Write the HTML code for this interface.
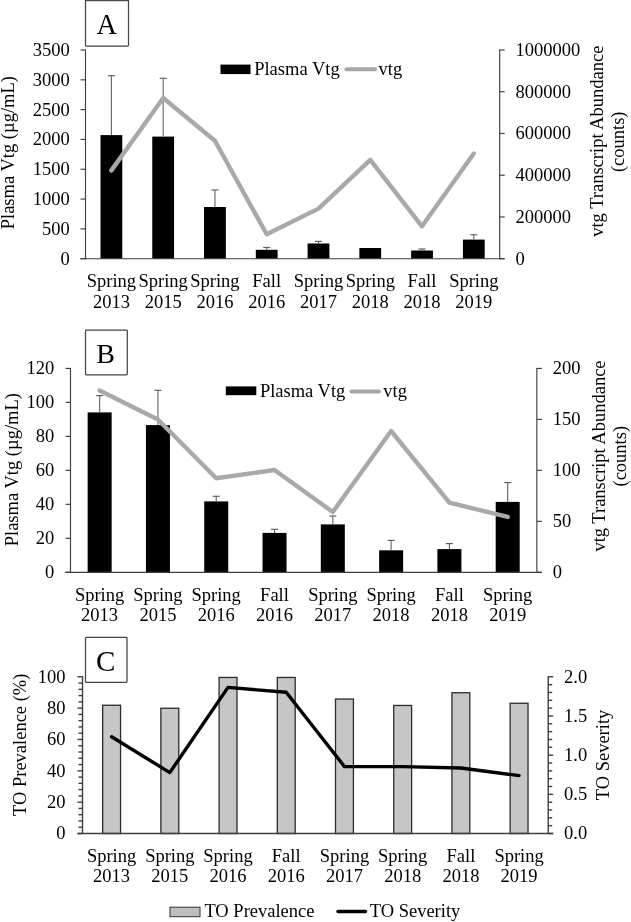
<!DOCTYPE html>
<html lang="en"><head><meta charset="utf-8"><title>Figure</title>
<style>
html,body{margin:0;padding:0;background:#fff;}
svg{display:block;will-change:transform;font-family:"Liberation Serif", serif;fill:#111;}
svg text{fill:#000;}
</style></head><body>
<svg width="631" height="922" viewBox="0 0 631 922">
<rect x="0" y="0" width="631" height="922" fill="#fff"/>
<g id="panelA">
<rect x="100.49" y="135.10" width="21.80" height="123.60" fill="#000" stroke="none" stroke-width="1"/>
<rect x="152.26" y="136.60" width="21.80" height="122.10" fill="#000" stroke="none" stroke-width="1"/>
<rect x="204.04" y="207.00" width="21.80" height="51.70" fill="#000" stroke="none" stroke-width="1"/>
<rect x="255.81" y="249.80" width="21.80" height="8.90" fill="#000" stroke="none" stroke-width="1"/>
<rect x="307.59" y="243.50" width="21.80" height="15.20" fill="#000" stroke="none" stroke-width="1"/>
<rect x="359.36" y="248.00" width="21.80" height="10.70" fill="#000" stroke="none" stroke-width="1"/>
<rect x="411.14" y="250.50" width="21.80" height="8.20" fill="#000" stroke="none" stroke-width="1"/>
<rect x="462.91" y="239.60" width="21.80" height="19.10" fill="#000" stroke="none" stroke-width="1"/>
<line x1="111.3875" y1="75.7" x2="111.3875" y2="135.1" stroke="#5c5c5c" stroke-width="1.05"/>
<line x1="107.8875" y1="75.7" x2="114.8875" y2="75.7" stroke="#5c5c5c" stroke-width="1.15"/>
<line x1="163.1625" y1="78.3" x2="163.1625" y2="136.6" stroke="#5c5c5c" stroke-width="1.05"/>
<line x1="159.6625" y1="78.3" x2="166.6625" y2="78.3" stroke="#5c5c5c" stroke-width="1.15"/>
<line x1="214.9375" y1="190" x2="214.9375" y2="207" stroke="#5c5c5c" stroke-width="1.05"/>
<line x1="211.4375" y1="190" x2="218.4375" y2="190" stroke="#5c5c5c" stroke-width="1.15"/>
<line x1="266.7125" y1="247.5" x2="266.7125" y2="249.8" stroke="#5c5c5c" stroke-width="1.05"/>
<line x1="263.2125" y1="247.5" x2="270.2125" y2="247.5" stroke="#5c5c5c" stroke-width="1.15"/>
<line x1="318.48749999999995" y1="241.4" x2="318.48749999999995" y2="243.5" stroke="#5c5c5c" stroke-width="1.05"/>
<line x1="314.98749999999995" y1="241.4" x2="321.98749999999995" y2="241.4" stroke="#5c5c5c" stroke-width="1.15"/>
<line x1="422.03749999999997" y1="249" x2="422.03749999999997" y2="250.5" stroke="#5c5c5c" stroke-width="1.05"/>
<line x1="418.53749999999997" y1="249" x2="425.53749999999997" y2="249" stroke="#5c5c5c" stroke-width="1.15"/>
<line x1="473.8125" y1="234.8" x2="473.8125" y2="239.6" stroke="#5c5c5c" stroke-width="1.05"/>
<line x1="470.3125" y1="234.8" x2="477.3125" y2="234.8" stroke="#5c5c5c" stroke-width="1.15"/>
<line x1="85.5" y1="49.5" x2="85.5" y2="259.2" stroke="#3e3e3e" stroke-width="1.15"/>
<line x1="499.7" y1="49.5" x2="499.7" y2="259.2" stroke="#3e3e3e" stroke-width="1.15"/>
<line x1="80.5" y1="258.7" x2="504.7" y2="258.7" stroke="#3e3e3e" stroke-width="1.15"/>
<line x1="80.5" y1="258.7" x2="85.5" y2="258.7" stroke="#3e3e3e" stroke-width="1.15"/>
<text x="69.8" y="264.7" font-size="18.5" text-anchor="end">0</text>
<line x1="80.5" y1="228.88571428571427" x2="85.5" y2="228.88571428571427" stroke="#3e3e3e" stroke-width="1.15"/>
<text x="69.8" y="234.88571428571427" font-size="18.5" text-anchor="end">500</text>
<line x1="80.5" y1="199.07142857142856" x2="85.5" y2="199.07142857142856" stroke="#3e3e3e" stroke-width="1.15"/>
<text x="69.8" y="205.07142857142856" font-size="18.5" text-anchor="end">1000</text>
<line x1="80.5" y1="169.25714285714287" x2="85.5" y2="169.25714285714287" stroke="#3e3e3e" stroke-width="1.15"/>
<text x="69.8" y="175.25714285714287" font-size="18.5" text-anchor="end">1500</text>
<line x1="80.5" y1="139.44285714285712" x2="85.5" y2="139.44285714285712" stroke="#3e3e3e" stroke-width="1.15"/>
<text x="69.8" y="145.44285714285712" font-size="18.5" text-anchor="end">2000</text>
<line x1="80.5" y1="109.6285714285714" x2="85.5" y2="109.6285714285714" stroke="#3e3e3e" stroke-width="1.15"/>
<text x="69.8" y="115.6285714285714" font-size="18.5" text-anchor="end">2500</text>
<line x1="80.5" y1="79.81428571428572" x2="85.5" y2="79.81428571428572" stroke="#3e3e3e" stroke-width="1.15"/>
<text x="69.8" y="85.81428571428572" font-size="18.5" text-anchor="end">3000</text>
<line x1="80.5" y1="50.0" x2="85.5" y2="50.0" stroke="#3e3e3e" stroke-width="1.15"/>
<text x="69.8" y="56.0" font-size="18.5" text-anchor="end">3500</text>
<line x1="499.7" y1="258.7" x2="504.7" y2="258.7" stroke="#3e3e3e" stroke-width="1.15"/>
<text x="515.6" y="264.7" font-size="18.5" text-anchor="start">0</text>
<line x1="499.7" y1="216.95999999999998" x2="504.7" y2="216.95999999999998" stroke="#3e3e3e" stroke-width="1.15"/>
<text x="515.6" y="222.95999999999998" font-size="18.5" text-anchor="start">200000</text>
<line x1="499.7" y1="175.22" x2="504.7" y2="175.22" stroke="#3e3e3e" stroke-width="1.15"/>
<text x="515.6" y="181.22" font-size="18.5" text-anchor="start">400000</text>
<line x1="499.7" y1="133.48000000000002" x2="504.7" y2="133.48000000000002" stroke="#3e3e3e" stroke-width="1.15"/>
<text x="515.6" y="139.48000000000002" font-size="18.5" text-anchor="start">600000</text>
<line x1="499.7" y1="91.74000000000001" x2="504.7" y2="91.74000000000001" stroke="#3e3e3e" stroke-width="1.15"/>
<text x="515.6" y="97.74000000000001" font-size="18.5" text-anchor="start">800000</text>
<line x1="499.7" y1="50.0" x2="504.7" y2="50.0" stroke="#3e3e3e" stroke-width="1.15"/>
<text x="515.6" y="56.0" font-size="18.5" text-anchor="start">1000000</text>
<polyline points="111.4,170.4 163.2,98.0 214.9,140.7 266.7,234.3 318.5,208.6 370.3,159.8 422.0,226.3 473.8,153.5" fill="none" stroke="#a9a9a9" stroke-width="4.4" stroke-linecap="round" stroke-linejoin="round"/>
<text x="111.4" y="287" font-size="18.5" text-anchor="middle">Spring</text>
<text x="111.4" y="308" font-size="18.5" text-anchor="middle">2013</text>
<text x="163.2" y="287" font-size="18.5" text-anchor="middle">Spring</text>
<text x="163.2" y="308" font-size="18.5" text-anchor="middle">2015</text>
<text x="214.9" y="287" font-size="18.5" text-anchor="middle">Spring</text>
<text x="214.9" y="308" font-size="18.5" text-anchor="middle">2016</text>
<text x="266.7" y="287" font-size="18.5" text-anchor="middle">Fall</text>
<text x="266.7" y="308" font-size="18.5" text-anchor="middle">2016</text>
<text x="318.5" y="287" font-size="18.5" text-anchor="middle">Spring</text>
<text x="318.5" y="308" font-size="18.5" text-anchor="middle">2017</text>
<text x="370.3" y="287" font-size="18.5" text-anchor="middle">Spring</text>
<text x="370.3" y="308" font-size="18.5" text-anchor="middle">2018</text>
<text x="422.0" y="287" font-size="18.5" text-anchor="middle">Fall</text>
<text x="422.0" y="308" font-size="18.5" text-anchor="middle">2018</text>
<text x="473.8" y="287" font-size="18.5" text-anchor="middle">Spring</text>
<text x="473.8" y="308" font-size="18.5" text-anchor="middle">2019</text>
<rect x="85.5" y="0.0" width="43.00" height="46.10" rx="0.8" fill="#fff" stroke="#444" stroke-width="1.25"/>
<text x="106.7" y="33.6" font-size="28.4" text-anchor="middle">A</text>
<text x="14" y="152.7" font-size="18.5" text-anchor="middle" transform="rotate(-90 14 152.7)">Plasma Vtg (µg/mL)</text>
<text x="602.6" y="141.2" font-size="18.5" text-anchor="middle" transform="rotate(-90 602.6 141.2)">vtg Transcript Abundance</text>
<text x="624" y="141.8" font-size="18.5" text-anchor="middle" transform="rotate(-90 624 141.8)">(counts)</text>
<line x1="85" y1="0.6" x2="129" y2="0.6" stroke="#4a4a4a" stroke-width="1.5"/>
<rect x="220.50" y="64.60" width="30.00" height="9.50" fill="#000" stroke="none" stroke-width="1"/>
<text x="254.2" y="75.0" font-size="18.5" text-anchor="start">Plasma Vtg</text>
<line x1="346.5" y1="69.3" x2="375" y2="69.3" stroke="#a6a6a6" stroke-width="4" stroke-linecap="round"/>
<text x="378.5" y="75.0" font-size="18.5" text-anchor="start">vtg</text>
</g><g id="panelB">
<rect x="87.65" y="412.40" width="24.00" height="159.90" fill="#000" stroke="none" stroke-width="1"/>
<rect x="145.94" y="425.10" width="24.00" height="147.20" fill="#000" stroke="none" stroke-width="1"/>
<rect x="204.23" y="501.40" width="24.00" height="70.90" fill="#000" stroke="none" stroke-width="1"/>
<rect x="262.53" y="532.90" width="24.00" height="39.40" fill="#000" stroke="none" stroke-width="1"/>
<rect x="320.82" y="524.40" width="24.00" height="47.90" fill="#000" stroke="none" stroke-width="1"/>
<rect x="379.12" y="550.30" width="24.00" height="22.00" fill="#000" stroke="none" stroke-width="1"/>
<rect x="437.41" y="549.10" width="24.00" height="23.20" fill="#000" stroke="none" stroke-width="1"/>
<rect x="495.70" y="501.90" width="24.00" height="70.40" fill="#000" stroke="none" stroke-width="1"/>
<line x1="99.646875" y1="395.6" x2="99.646875" y2="412.4" stroke="#5c5c5c" stroke-width="1.05"/>
<line x1="96.146875" y1="395.6" x2="103.146875" y2="395.6" stroke="#5c5c5c" stroke-width="1.15"/>
<line x1="157.940625" y1="390.3" x2="157.940625" y2="425.1" stroke="#5c5c5c" stroke-width="1.05"/>
<line x1="154.440625" y1="390.3" x2="161.440625" y2="390.3" stroke="#5c5c5c" stroke-width="1.15"/>
<line x1="216.234375" y1="496.3" x2="216.234375" y2="501.4" stroke="#5c5c5c" stroke-width="1.05"/>
<line x1="212.734375" y1="496.3" x2="219.734375" y2="496.3" stroke="#5c5c5c" stroke-width="1.15"/>
<line x1="274.52812500000005" y1="529.3" x2="274.52812500000005" y2="532.9" stroke="#5c5c5c" stroke-width="1.05"/>
<line x1="271.02812500000005" y1="529.3" x2="278.02812500000005" y2="529.3" stroke="#5c5c5c" stroke-width="1.15"/>
<line x1="332.82187500000003" y1="516" x2="332.82187500000003" y2="524.4" stroke="#5c5c5c" stroke-width="1.05"/>
<line x1="329.32187500000003" y1="516" x2="336.32187500000003" y2="516" stroke="#5c5c5c" stroke-width="1.15"/>
<line x1="391.115625" y1="540.4" x2="391.115625" y2="550.3" stroke="#5c5c5c" stroke-width="1.05"/>
<line x1="387.615625" y1="540.4" x2="394.615625" y2="540.4" stroke="#5c5c5c" stroke-width="1.15"/>
<line x1="449.409375" y1="543.6" x2="449.409375" y2="549.1" stroke="#5c5c5c" stroke-width="1.05"/>
<line x1="445.909375" y1="543.6" x2="452.909375" y2="543.6" stroke="#5c5c5c" stroke-width="1.15"/>
<line x1="507.703125" y1="482.6" x2="507.703125" y2="501.9" stroke="#5c5c5c" stroke-width="1.05"/>
<line x1="504.203125" y1="482.6" x2="511.203125" y2="482.6" stroke="#5c5c5c" stroke-width="1.15"/>
<line x1="70.5" y1="367.9" x2="70.5" y2="572.8" stroke="#3e3e3e" stroke-width="1.15"/>
<line x1="536.85" y1="367.9" x2="536.85" y2="572.8" stroke="#3e3e3e" stroke-width="1.15"/>
<line x1="65.5" y1="572.3" x2="541.85" y2="572.3" stroke="#3e3e3e" stroke-width="1.15"/>
<line x1="65.5" y1="572.3" x2="70.5" y2="572.3" stroke="#3e3e3e" stroke-width="1.15"/>
<text x="54.2" y="578.3" font-size="18.5" text-anchor="end">0</text>
<line x1="65.5" y1="538.3166666666666" x2="70.5" y2="538.3166666666666" stroke="#3e3e3e" stroke-width="1.15"/>
<text x="54.2" y="544.3166666666666" font-size="18.5" text-anchor="end">20</text>
<line x1="65.5" y1="504.3333333333333" x2="70.5" y2="504.3333333333333" stroke="#3e3e3e" stroke-width="1.15"/>
<text x="54.2" y="510.3333333333333" font-size="18.5" text-anchor="end">40</text>
<line x1="65.5" y1="470.34999999999997" x2="70.5" y2="470.34999999999997" stroke="#3e3e3e" stroke-width="1.15"/>
<text x="54.2" y="476.34999999999997" font-size="18.5" text-anchor="end">60</text>
<line x1="65.5" y1="436.3666666666667" x2="70.5" y2="436.3666666666667" stroke="#3e3e3e" stroke-width="1.15"/>
<text x="54.2" y="442.3666666666667" font-size="18.5" text-anchor="end">80</text>
<line x1="65.5" y1="402.3833333333333" x2="70.5" y2="402.3833333333333" stroke="#3e3e3e" stroke-width="1.15"/>
<text x="54.2" y="408.3833333333333" font-size="18.5" text-anchor="end">100</text>
<line x1="65.5" y1="368.4" x2="70.5" y2="368.4" stroke="#3e3e3e" stroke-width="1.15"/>
<text x="54.2" y="374.4" font-size="18.5" text-anchor="end">120</text>
<line x1="536.85" y1="572.3" x2="541.85" y2="572.3" stroke="#3e3e3e" stroke-width="1.15"/>
<text x="552.7" y="578.3" font-size="18.5" text-anchor="start">0</text>
<line x1="536.85" y1="521.3249999999999" x2="541.85" y2="521.3249999999999" stroke="#3e3e3e" stroke-width="1.15"/>
<text x="552.7" y="527.3249999999999" font-size="18.5" text-anchor="start">50</text>
<line x1="536.85" y1="470.34999999999997" x2="541.85" y2="470.34999999999997" stroke="#3e3e3e" stroke-width="1.15"/>
<text x="552.7" y="476.34999999999997" font-size="18.5" text-anchor="start">100</text>
<line x1="536.85" y1="419.375" x2="541.85" y2="419.375" stroke="#3e3e3e" stroke-width="1.15"/>
<text x="552.7" y="425.375" font-size="18.5" text-anchor="start">150</text>
<line x1="536.85" y1="368.4" x2="541.85" y2="368.4" stroke="#3e3e3e" stroke-width="1.15"/>
<text x="552.7" y="374.4" font-size="18.5" text-anchor="start">200</text>
<polyline points="99.6,390.5 157.9,419.5 216.2,478.3 274.5,470.0 332.8,512.0 391.1,431.0 449.4,502.7 507.7,516.9" fill="none" stroke="#a9a9a9" stroke-width="4.4" stroke-linecap="round" stroke-linejoin="round"/>
<text x="99.6" y="600.5" font-size="18.5" text-anchor="middle">Spring</text>
<text x="99.6" y="621.1" font-size="18.5" text-anchor="middle">2013</text>
<text x="157.9" y="600.5" font-size="18.5" text-anchor="middle">Spring</text>
<text x="157.9" y="621.1" font-size="18.5" text-anchor="middle">2015</text>
<text x="216.2" y="600.5" font-size="18.5" text-anchor="middle">Spring</text>
<text x="216.2" y="621.1" font-size="18.5" text-anchor="middle">2016</text>
<text x="274.5" y="600.5" font-size="18.5" text-anchor="middle">Fall</text>
<text x="274.5" y="621.1" font-size="18.5" text-anchor="middle">2016</text>
<text x="332.8" y="600.5" font-size="18.5" text-anchor="middle">Spring</text>
<text x="332.8" y="621.1" font-size="18.5" text-anchor="middle">2017</text>
<text x="391.1" y="600.5" font-size="18.5" text-anchor="middle">Spring</text>
<text x="391.1" y="621.1" font-size="18.5" text-anchor="middle">2018</text>
<text x="449.4" y="600.5" font-size="18.5" text-anchor="middle">Fall</text>
<text x="449.4" y="621.1" font-size="18.5" text-anchor="middle">2018</text>
<text x="507.7" y="600.5" font-size="18.5" text-anchor="middle">Spring</text>
<text x="507.7" y="621.1" font-size="18.5" text-anchor="middle">2019</text>
<rect x="85.5" y="330.1" width="41.80" height="44.80" rx="0.8" fill="#fff" stroke="#444" stroke-width="1.25"/>
<text x="105.7" y="362.5" font-size="28" text-anchor="middle">B</text>
<text x="17.8" y="469.7" font-size="18.5" text-anchor="middle" transform="rotate(-90 17.8 469.7)">Plasma Vtg (µg/mL)</text>
<text x="604.9" y="456" font-size="18.5" text-anchor="middle" transform="rotate(-90 604.9 456)">vtg Transcript Abundance</text>
<text x="626.4" y="456.2" font-size="18.5" text-anchor="middle" transform="rotate(-90 626.4 456.2)">(counts)</text>
<rect x="225.80" y="386.40" width="30.50" height="8.80" fill="#000" stroke="none" stroke-width="1"/>
<text x="259.9" y="396.8" font-size="18.5" text-anchor="start">Plasma Vtg</text>
<line x1="351.5" y1="391.6" x2="379" y2="391.6" stroke="#a6a6a6" stroke-width="4" stroke-linecap="round"/>
<text x="383.3" y="396.8" font-size="18.5" text-anchor="start">vtg</text>
</g><g id="panelC">
<rect x="102.66" y="705.25" width="17.90" height="128.25" fill="#c6c6c6" stroke="#2c2c2c" stroke-width="1.3"/>
<rect x="160.87" y="708.25" width="17.90" height="125.25" fill="#c6c6c6" stroke="#2c2c2c" stroke-width="1.3"/>
<rect x="219.08" y="677.45" width="17.90" height="156.05" fill="#c6c6c6" stroke="#2c2c2c" stroke-width="1.3"/>
<rect x="277.29" y="677.45" width="17.90" height="156.05" fill="#c6c6c6" stroke="#2c2c2c" stroke-width="1.3"/>
<rect x="335.51" y="699.05" width="17.90" height="134.45" fill="#c6c6c6" stroke="#2c2c2c" stroke-width="1.3"/>
<rect x="393.72" y="705.45" width="17.90" height="128.05" fill="#c6c6c6" stroke="#2c2c2c" stroke-width="1.3"/>
<rect x="451.93" y="692.75" width="17.90" height="140.75" fill="#c6c6c6" stroke="#2c2c2c" stroke-width="1.3"/>
<rect x="510.14" y="703.25" width="17.90" height="130.25" fill="#c6c6c6" stroke="#2c2c2c" stroke-width="1.3"/>
<line x1="82.5" y1="676.3" x2="82.5" y2="834.0" stroke="#3e3e3e" stroke-width="1.4"/>
<line x1="548.2" y1="676.3" x2="548.2" y2="834.0" stroke="#3e3e3e" stroke-width="1.4"/>
<line x1="77.5" y1="833.5" x2="553.2" y2="833.5" stroke="#3e3e3e" stroke-width="1.4"/>
<line x1="77.5" y1="833.5" x2="82.5" y2="833.5" stroke="#3e3e3e" stroke-width="1.4"/>
<text x="65.5" y="839.2" font-size="18.5" text-anchor="end">0</text>
<line x1="78.5" y1="827.232" x2="82.5" y2="827.232" stroke="#3e3e3e" stroke-width="1.4"/>
<line x1="78.5" y1="820.9639999999999" x2="82.5" y2="820.9639999999999" stroke="#3e3e3e" stroke-width="1.4"/>
<line x1="78.5" y1="814.696" x2="82.5" y2="814.696" stroke="#3e3e3e" stroke-width="1.4"/>
<line x1="78.5" y1="808.428" x2="82.5" y2="808.428" stroke="#3e3e3e" stroke-width="1.4"/>
<line x1="77.5" y1="802.16" x2="82.5" y2="802.16" stroke="#3e3e3e" stroke-width="1.4"/>
<text x="65.5" y="807.86" font-size="18.5" text-anchor="end">20</text>
<line x1="78.5" y1="795.8919999999999" x2="82.5" y2="795.8919999999999" stroke="#3e3e3e" stroke-width="1.4"/>
<line x1="78.5" y1="789.6239999999999" x2="82.5" y2="789.6239999999999" stroke="#3e3e3e" stroke-width="1.4"/>
<line x1="78.5" y1="783.356" x2="82.5" y2="783.356" stroke="#3e3e3e" stroke-width="1.4"/>
<line x1="78.5" y1="777.088" x2="82.5" y2="777.088" stroke="#3e3e3e" stroke-width="1.4"/>
<line x1="77.5" y1="770.8199999999999" x2="82.5" y2="770.8199999999999" stroke="#3e3e3e" stroke-width="1.4"/>
<text x="65.5" y="776.52" font-size="18.5" text-anchor="end">40</text>
<line x1="78.5" y1="764.5519999999999" x2="82.5" y2="764.5519999999999" stroke="#3e3e3e" stroke-width="1.4"/>
<line x1="78.5" y1="758.2839999999999" x2="82.5" y2="758.2839999999999" stroke="#3e3e3e" stroke-width="1.4"/>
<line x1="78.5" y1="752.016" x2="82.5" y2="752.016" stroke="#3e3e3e" stroke-width="1.4"/>
<line x1="78.5" y1="745.7479999999999" x2="82.5" y2="745.7479999999999" stroke="#3e3e3e" stroke-width="1.4"/>
<line x1="77.5" y1="739.48" x2="82.5" y2="739.48" stroke="#3e3e3e" stroke-width="1.4"/>
<text x="65.5" y="745.1800000000001" font-size="18.5" text-anchor="end">60</text>
<line x1="78.5" y1="733.212" x2="82.5" y2="733.212" stroke="#3e3e3e" stroke-width="1.4"/>
<line x1="78.5" y1="726.944" x2="82.5" y2="726.944" stroke="#3e3e3e" stroke-width="1.4"/>
<line x1="78.5" y1="720.676" x2="82.5" y2="720.676" stroke="#3e3e3e" stroke-width="1.4"/>
<line x1="78.5" y1="714.408" x2="82.5" y2="714.408" stroke="#3e3e3e" stroke-width="1.4"/>
<line x1="77.5" y1="708.14" x2="82.5" y2="708.14" stroke="#3e3e3e" stroke-width="1.4"/>
<text x="65.5" y="713.84" font-size="18.5" text-anchor="end">80</text>
<line x1="78.5" y1="701.872" x2="82.5" y2="701.872" stroke="#3e3e3e" stroke-width="1.4"/>
<line x1="78.5" y1="695.6039999999999" x2="82.5" y2="695.6039999999999" stroke="#3e3e3e" stroke-width="1.4"/>
<line x1="78.5" y1="689.336" x2="82.5" y2="689.336" stroke="#3e3e3e" stroke-width="1.4"/>
<line x1="78.5" y1="683.068" x2="82.5" y2="683.068" stroke="#3e3e3e" stroke-width="1.4"/>
<line x1="77.5" y1="676.8" x2="82.5" y2="676.8" stroke="#3e3e3e" stroke-width="1.4"/>
<text x="65.5" y="682.5" font-size="18.5" text-anchor="end">100</text>
<line x1="548.2" y1="833.5" x2="553.2" y2="833.5" stroke="#3e3e3e" stroke-width="1.4"/>
<text x="564.1" y="839.2" font-size="18.5" text-anchor="start">0.0</text>
<line x1="548.2" y1="825.665" x2="552.2" y2="825.665" stroke="#3e3e3e" stroke-width="1.4"/>
<line x1="548.2" y1="817.83" x2="552.2" y2="817.83" stroke="#3e3e3e" stroke-width="1.4"/>
<line x1="548.2" y1="809.995" x2="552.2" y2="809.995" stroke="#3e3e3e" stroke-width="1.4"/>
<line x1="548.2" y1="802.16" x2="552.2" y2="802.16" stroke="#3e3e3e" stroke-width="1.4"/>
<line x1="548.2" y1="794.325" x2="553.2" y2="794.325" stroke="#3e3e3e" stroke-width="1.4"/>
<text x="564.1" y="800.0250000000001" font-size="18.5" text-anchor="start">0.5</text>
<line x1="548.2" y1="786.49" x2="552.2" y2="786.49" stroke="#3e3e3e" stroke-width="1.4"/>
<line x1="548.2" y1="778.6550000000001" x2="552.2" y2="778.6550000000001" stroke="#3e3e3e" stroke-width="1.4"/>
<line x1="548.2" y1="770.82" x2="552.2" y2="770.82" stroke="#3e3e3e" stroke-width="1.4"/>
<line x1="548.2" y1="762.985" x2="552.2" y2="762.985" stroke="#3e3e3e" stroke-width="1.4"/>
<line x1="548.2" y1="755.15" x2="553.2" y2="755.15" stroke="#3e3e3e" stroke-width="1.4"/>
<text x="564.1" y="760.85" font-size="18.5" text-anchor="start">1.0</text>
<line x1="548.2" y1="747.3149999999999" x2="552.2" y2="747.3149999999999" stroke="#3e3e3e" stroke-width="1.4"/>
<line x1="548.2" y1="739.48" x2="552.2" y2="739.48" stroke="#3e3e3e" stroke-width="1.4"/>
<line x1="548.2" y1="731.645" x2="552.2" y2="731.645" stroke="#3e3e3e" stroke-width="1.4"/>
<line x1="548.2" y1="723.81" x2="552.2" y2="723.81" stroke="#3e3e3e" stroke-width="1.4"/>
<line x1="548.2" y1="715.9749999999999" x2="553.2" y2="715.9749999999999" stroke="#3e3e3e" stroke-width="1.4"/>
<text x="564.1" y="721.675" font-size="18.5" text-anchor="start">1.5</text>
<line x1="548.2" y1="708.1399999999999" x2="552.2" y2="708.1399999999999" stroke="#3e3e3e" stroke-width="1.4"/>
<line x1="548.2" y1="700.305" x2="552.2" y2="700.305" stroke="#3e3e3e" stroke-width="1.4"/>
<line x1="548.2" y1="692.4699999999999" x2="552.2" y2="692.4699999999999" stroke="#3e3e3e" stroke-width="1.4"/>
<line x1="548.2" y1="684.6349999999999" x2="552.2" y2="684.6349999999999" stroke="#3e3e3e" stroke-width="1.4"/>
<line x1="548.2" y1="676.8" x2="553.2" y2="676.8" stroke="#3e3e3e" stroke-width="1.4"/>
<text x="564.1" y="682.5" font-size="18.5" text-anchor="start">2.0</text>
<polyline points="111.6,736.8 169.8,772.6 228.0,687.4 286.2,692.3 344.5,766.6 402.7,766.6 460.9,768.0 519.1,775.6" fill="none" stroke="#000" stroke-width="3.4" stroke-linecap="round" stroke-linejoin="round"/>
<text x="111.6" y="861.7" font-size="18.5" text-anchor="middle">Spring</text>
<text x="111.6" y="882.0" font-size="18.5" text-anchor="middle">2013</text>
<text x="169.8" y="861.7" font-size="18.5" text-anchor="middle">Spring</text>
<text x="169.8" y="882.0" font-size="18.5" text-anchor="middle">2015</text>
<text x="228.0" y="861.7" font-size="18.5" text-anchor="middle">Spring</text>
<text x="228.0" y="882.0" font-size="18.5" text-anchor="middle">2016</text>
<text x="286.2" y="861.7" font-size="18.5" text-anchor="middle">Fall</text>
<text x="286.2" y="882.0" font-size="18.5" text-anchor="middle">2016</text>
<text x="344.5" y="861.7" font-size="18.5" text-anchor="middle">Spring</text>
<text x="344.5" y="882.0" font-size="18.5" text-anchor="middle">2017</text>
<text x="402.7" y="861.7" font-size="18.5" text-anchor="middle">Spring</text>
<text x="402.7" y="882.0" font-size="18.5" text-anchor="middle">2018</text>
<text x="460.9" y="861.7" font-size="18.5" text-anchor="middle">Fall</text>
<text x="460.9" y="882.0" font-size="18.5" text-anchor="middle">2018</text>
<text x="519.1" y="861.7" font-size="18.5" text-anchor="middle">Spring</text>
<text x="519.1" y="882.0" font-size="18.5" text-anchor="middle">2019</text>
<rect x="85.5" y="637.4" width="41.50" height="44.90" rx="0.8" fill="#fff" stroke="#444" stroke-width="1.25"/>
<text x="105.6" y="670.8" font-size="29" text-anchor="middle">C</text>
<text x="25.6" y="744.8" font-size="18.5" text-anchor="middle" transform="rotate(-90 25.6 744.8)">TO Prevalence (%)</text>
<text x="608.9" y="755" font-size="18.5" text-anchor="middle" transform="rotate(-90 608.9 755)">TO Severity</text>
<rect x="170.00" y="907.20" width="30.00" height="9.50" fill="#bfbfbf" stroke="#333" stroke-width="1"/>
<text x="204.4" y="917.4" font-size="18.5" text-anchor="start">TO Prevalence</text>
<line x1="338" y1="911.5" x2="365.5" y2="911.5" stroke="#000" stroke-width="3.4" stroke-linecap="round"/>
<text x="369.7" y="917.4" font-size="18.5" text-anchor="start">TO Severity</text>
</g></svg></body></html>
